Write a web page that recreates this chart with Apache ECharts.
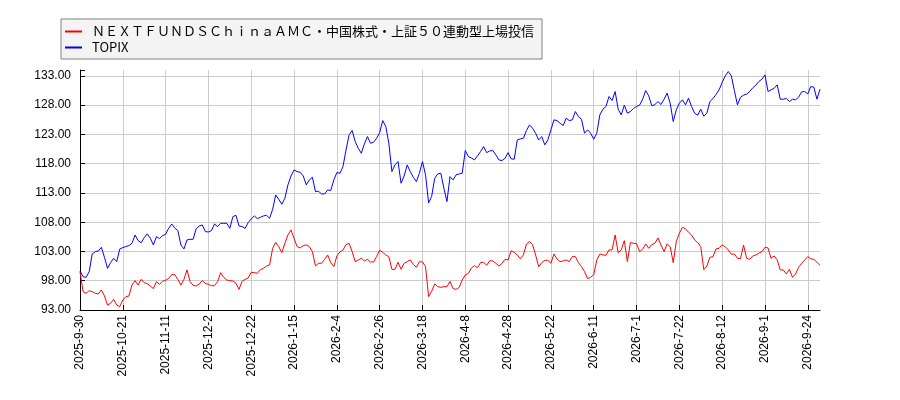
<!DOCTYPE html>
<html>
<head>
<meta charset="utf-8">
<script src="https://cdn.jsdelivr.net/npm/echarts@6/dist/echarts.min.js"></script>
<style>
  html, body { margin: 0; padding: 0; background: #fff; }
  #main { width: 900px; height: 400px; }
</style>
</head>
<body>
<div id="main"></div>
<script>
// market holidays (TSE closed) inside the range
var holidays = [
  '2025-10-13', '2025-11-3', '2025-11-24', '2025-12-31', '2026-1-1', '2026-1-2',
  '2026-1-12', '2026-2-11', '2026-2-23', '2026-3-20', '2026-4-29', '2026-5-4',
  '2026-5-5', '2026-5-6', '2026-7-20', '2026-8-11', '2026-9-21', '2026-9-22', '2026-9-23'
];

var seriesNames = ['ＮＥＸＴＦＵＮＤＳＣｈｉｎａＡＭＣ・中国株式・上証５０連動型上場投信', 'TOPIX'];

var chinaFund = [
  99.55, 96.13, 95.85, 96.3, 96.13, 95.85, 95.74, 96.42, 95.39, 93.85,
  94.14, 94.82, 93.85, 93.57, 94.71, 95.28, 95.39, 97.27, 98.01, 97.27,
  98.24, 97.67, 97.5, 97.1, 96.65, 97.84, 97.39, 97.9, 98.07, 98.41,
  99.04, 99.04, 98.24, 97.27, 98.24, 99.84, 97.84, 97.22, 97.1, 97.44,
  98.01, 97.56, 97.39, 97.16, 97.16, 97.84, 99.38, 98.58, 98.13, 98.01,
  97.96, 97.56, 96.53, 97.9, 98.24, 98.47, 99.44, 99.38, 99.27, 99.89,
  100.12, 100.52, 100.69, 103.54, 104.57, 103.83, 102.8, 104.4, 105.82, 106.68,
  105.25, 103.83, 103.6, 104.0, 104.11, 103.83, 102.97, 100.52, 100.98, 100.98,
  101.66, 102.4, 101.09, 100.41, 102.23, 102.91, 103.26, 104.17, 104.4, 102.97,
  101.26, 101.55, 101.83, 101.38, 101.66, 101.21, 101.21, 102.12, 103.2, 102.86,
  102.4, 102.12, 99.95, 99.95, 101.15, 99.95, 100.98, 101.26, 101.55, 100.81,
  100.29, 101.26, 101.21, 100.41, 95.3, 96.2, 97.44, 96.99, 96.87, 96.99,
  96.99, 97.9, 96.65, 96.53, 96.87, 98.13, 98.98, 99.27, 100.18, 100.58,
  100.24, 101.09, 101.15, 100.64, 101.43, 101.38, 100.98, 100.52, 100.98, 101.66,
  101.55, 103.14, 102.86, 102.4, 101.77, 102.4, 104.28, 104.68, 104.17, 102.4,
  100.41, 101.09, 101.49, 101.49, 100.98, 102.57, 101.72, 101.26, 101.38, 101.55,
  101.26, 102.12, 102.12, 101.09, 100.41, 99.55, 98.36, 98.58, 99.04, 101.55,
  102.57, 102.4, 102.34, 103.26, 103.26, 105.82, 102.8, 103.26, 104.85, 101.26,
  104.51, 104.4, 104.34, 102.97, 103.37, 104.28, 103.54, 104.17, 104.4, 105.31,
  104.11, 102.97, 104.28, 103.83, 101.09, 104.68, 106.11, 107.13, 106.9, 106.28,
  105.82, 104.97, 104.51, 103.83, 99.9, 100.5, 102.0, 102.12, 103.43, 103.54,
  104.11, 103.83, 103.26, 102.52, 102.57, 101.83, 101.77, 104.11, 101.83, 101.66,
  102.23, 102.4, 102.69, 102.97, 103.71, 103.6, 101.83, 102.23, 101.55, 99.84,
  99.84, 99.15, 99.95, 98.58, 99.15, 100.29, 100.98, 101.55, 102.12, 101.72,
  101.66, 101.15, 100.64
];

var topix = [
  99.67, 98.7, 98.58, 99.55, 102.57, 102.97, 103.08, 103.71, 102.0, 100.12,
  101.09, 101.83, 101.26, 103.43, 103.66, 103.83, 104.0, 104.4, 105.82, 104.85,
  104.5, 105.36, 106.0, 105.25, 104.11, 105.54, 105.2, 105.7, 105.93, 106.96,
  107.7, 107.0, 106.56, 104.1, 103.43, 104.97, 105.08, 105.08, 106.9, 107.36,
  107.53, 106.39, 106.33, 106.56, 107.7, 107.25, 107.81, 107.81, 107.81, 106.96,
  108.95, 109.18, 107.36, 107.25, 106.96, 107.93, 108.56, 109.07, 108.61, 108.84,
  109.07, 109.18, 108.67, 110.2, 112.66, 111.92, 111.06, 112.09, 114.37, 115.9,
  116.93, 116.65, 116.53, 115.9, 114.37, 115.22, 115.68, 113.23, 113.28, 112.83,
  112.83, 113.51, 113.4, 115.22, 116.48, 116.36, 117.5, 120.35, 122.91, 123.66,
  121.77, 120.63, 119.78, 121.37, 122.63, 121.49, 121.66, 122.34, 123.31, 125.36,
  124.34, 121.49, 116.65, 117.79, 118.36, 114.65, 115.9, 117.79, 116.65, 115.68,
  114.94, 116.36, 118.36, 116.08, 111.3, 112.4, 115.5, 116.25, 116.36, 113.8,
  111.52, 115.79, 115.22, 116.08, 116.25, 116.36, 120.24, 119.21, 118.98, 118.64,
  119.33, 120.07, 120.92, 119.89, 120.18, 120.24, 119.5, 118.64, 118.53, 118.93,
  119.89, 118.81, 118.76, 122.06, 122.23, 122.34, 123.66, 124.62, 124.06, 123.2,
  122.06, 122.63, 121.21, 122.06, 123.77, 125.48, 125.36, 124.91, 124.51, 125.76,
  125.36, 125.48, 126.9, 126.05, 125.59, 123.2, 123.77, 123.2, 122.17, 123.2,
  126.33, 127.3, 127.76, 129.47, 128.78, 130.32, 127.3, 126.33, 127.99, 126.62,
  126.9, 127.42, 127.76, 127.99, 129.01, 130.49, 129.58, 127.87, 128.1, 128.61,
  128.1, 129.01, 130.04, 128.33, 125.19, 127.19, 128.33, 128.9, 128.04, 129.18,
  127.76, 126.62, 126.28, 127.3, 126.1, 126.62, 128.61, 129.13, 129.81, 130.61,
  131.86, 133.0, 133.74, 133.0, 130.49, 128.04, 129.35, 129.7, 129.87, 130.32,
  130.95, 131.4, 132.03, 132.43, 133.17, 130.32, 130.61, 130.89, 131.46, 129.01,
  129.01, 129.13, 128.61, 129.01, 128.9, 129.35, 130.27, 130.32, 129.92, 131.18,
  131.06, 129.01, 130.72
];

// trading days from 2025-9-30 to 2026-9-30
function tradingDays() {
  var days = [];
  var t = Date.UTC(2025, 8, 30);
  var end = Date.UTC(2026, 8, 30);
  while (t <= end) {
    var d = new Date(t);
    var label = d.getUTCFullYear() + '-' + (d.getUTCMonth() + 1) + '-' + d.getUTCDate();
    var wd = d.getUTCDay();
    if (wd !== 0 && wd !== 6 && holidays.indexOf(label) < 0) {
      days.push(label);
    }
    t += 86400000;
  }
  return days;
}
var dates = tradingDays();

var mychart = echarts.init(document.getElementById('main'));
var option = {
  animation: false,
  legend: {
    orient: 'vertical',
    left: 61,
    top: 19,
    padding: [6, 8, 5, 4],
    itemGap: 3,
    itemWidth: 17,
    itemHeight: 2,
    icon: 'rect',
    backgroundColor: '#f4f4f4',
    borderColor: '#808080',
    borderWidth: 1,
    borderRadius: 0,
    textStyle: {
      fontFamily: 'Noto Sans CJK JP',
      fontSize: 13,
      color: '#000',
      padding: [0, 0, 0, 5]
    },
    data: seriesNames
  },
  grid: {
    left: 80,
    right: 80,
    top: 70,
    bottom: 90
  },
  xAxis: {
    type: 'category',
    boundaryGap: false,
    data: dates,
    axisLine: { lineStyle: { color: '#000', width: 1 } },
    axisTick: { inside: true, length: 5, interval: 13, lineStyle: { color: '#000' } },
    axisLabel: {
      interval: 13,
      rotate: 90,
      margin: 5,
      fontFamily: 'Liberation Sans',
      fontSize: 12,
      color: '#000'
    },
    splitLine: { show: true, interval: 13, lineStyle: { color: '#cccccc' } }
  },
  yAxis: {
    type: 'value',
    min: 93,
    max: 134,
    interval: 5,
    axisLine: { show: true, lineStyle: { color: '#000', width: 1 } },
    axisTick: { show: true, inside: true, length: 5, lineStyle: { color: '#000' } },
    axisLabel: {
      margin: 9,
      fontFamily: 'Liberation Sans',
      fontSize: 12,
      color: '#000',
      formatter: function (v) {
        return (v - 93) % 5 === 0 ? v.toFixed(2) : '';
      }
    },
    splitLine: { show: true, showMaxLine: false, lineStyle: { color: '#cccccc' } }
  },
  series: [
    {
      name: seriesNames[0],
      type: 'line',
      showSymbol: false,
      data: chinaFund,
      itemStyle: { color: '#ff0000' },
      lineStyle: { color: '#ff0000', width: 1 }
    },
    {
      name: seriesNames[1],
      type: 'line',
      showSymbol: false,
      data: topix,
      itemStyle: { color: '#0000ff' },
      lineStyle: { color: '#0000ff', width: 1 }
    }
  ]
};
mychart.setOption(option);
</script>
</body>
</html>
